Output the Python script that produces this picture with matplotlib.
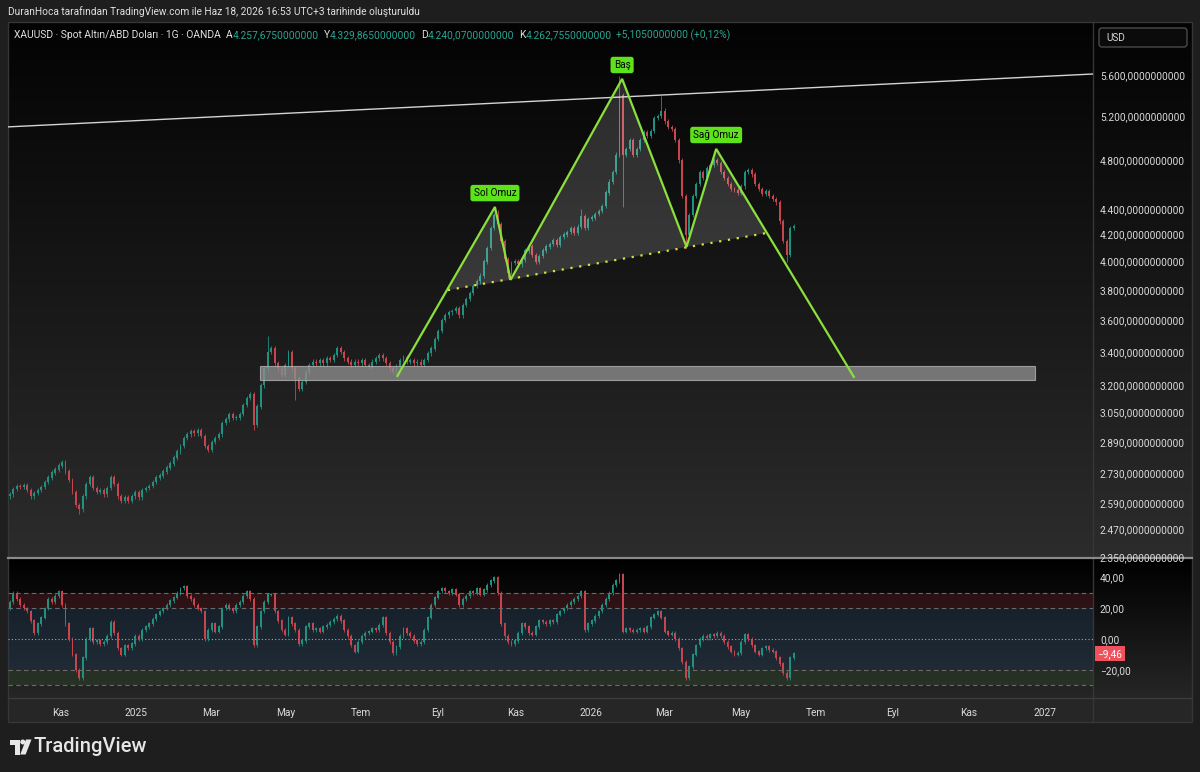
import numpy as np
import pandas as pd
import matplotlib
matplotlib.use("Agg")
import matplotlib.pyplot as plt
from matplotlib.colors import LinearSegmentedColormap
from matplotlib.patches import Rectangle, Circle, Polygon, FancyBboxPatch
from matplotlib.ticker import NullLocator
from matplotlib.transforms import blended_transform_factory

plt.rcParams["font.family"] = ["Roboto", "DejaVu Sans"]

# first bar of the visible range; one candle = 2 trading days
START = "2024-09-20"

# XAUUSD closes (every 2nd trading day)
closes = [
    2630, 2655, 2670, 2665, 2675, 2650, 2620, 2635, 2650, 2665,
    2690, 2710, 2735, 2750, 2770, 2785, 2740, 2700, 2640, 2580,
    2560, 2620, 2680, 2710, 2660, 2640, 2650, 2630, 2660, 2710,
    2680, 2620, 2600, 2615, 2600, 2620, 2640, 2615, 2650, 2660,
    2670, 2690, 2710, 2720, 2740, 2760, 2780, 2810, 2840, 2870,
    2910, 2930, 2945, 2935, 2950, 2920, 2870, 2850, 2890, 2910,
    2930, 2990, 3010, 3040, 3020, 3020, 3040, 3090, 3130, 3150,
    2980, 3080, 3200, 3300, 3400, 3420, 3330, 3300, 3260, 3320,
    3400, 3300, 3240, 3180, 3220, 3280, 3320, 3340, 3330, 3350,
    3330, 3360, 3350, 3380, 3420, 3400, 3360, 3340, 3320, 3340,
    3330, 3350, 3320, 3310, 3340, 3360, 3380, 3360, 3330, 3300,
    3280, 3310, 3350, 3370, 3340, 3350, 3330, 3340, 3320, 3350,
    3390, 3420, 3480, 3530, 3600, 3630, 3650, 3660, 3680, 3630,
    3700, 3740, 3780, 3830, 3860, 3900, 4000, 4100, 4250, 4350,
    4280, 4150, 4020, 3920, 3990, 4000, 3980, 4010, 4080, 4110,
    4050, 4000, 4040, 4080, 4110, 4130, 4160, 4120, 4180, 4200,
    4220, 4250, 4210, 4260, 4340, 4250, 4320, 4330, 4360, 4380,
    4420, 4530, 4620, 4700, 4850, 5400, 4850, 4900, 4980, 4850,
    4900, 4980, 5050, 5020, 5060, 5180, 5200, 5250, 5150, 5100,
    5080, 4980, 4800, 4500, 4200, 4350, 4500, 4600, 4700, 4650,
    4730, 4760, 4800, 4780, 4700, 4650, 4600, 4560, 4550, 4530,
    4580, 4700, 4720, 4680, 4600, 4560, 4520, 4540, 4500, 4480,
    4450, 4300, 4150, 4050, 4250, 4263,
]
first_open = 2620
# long wicks visible on the chart: candle index -> price
wick_highs = {74: 3500, 140: 4390, 164: 4400, 175: 5590, 187: 5390}
wick_lows = {20: 2540, 70: 2955, 82: 3120, 143: 3885, 176: 4410, 194: 4100, 223: 4000}

# oscillator pane values (same candles)
osc = [
    24, 30, 26, 22, 20, 18, 12, 4, 10, 14,
    20, 26, 24, 28, 31, 22, 10, 0, -10, -20,
    -25, -12, 0, 7, -2, -1, -3, -2, 2, 11,
    4, -6, -10, -4, -6, -3, 2, 0, 6, 8,
    10, 13, 16, 18, 20, 22, 25, 27, 30, 33,
    34, 28, 26, 22, 20, 18, 0, 6, 10, 5,
    8, 20, 22, 20, 18, 22, 24, 28, 31, 26,
    -4, 8, 18, 24, 29, 29, 18, 12, 6, 3,
    14, 10, 6, -3, -1, 8, 10, 6, 7, 5,
    8, 9, 11, 13, 15, 12, 6, 2, -4, -8,
    -2, 2, 4, 5, 7, 6, 9, 14, 4, -2,
    -9, -5, 2, 7, 4, 2, -1, -3, -2, 6,
    14, 22, 27, 31, 33, 31, 30, 32, 29, 22,
    26, 28, 31, 30, 33, 29, 32, 35, 38, 40,
    30, 10, 2, -2, -3, -1, 4, 10, 8, 4,
    3, 8, 12, 11, 10, 12, 11, 16, 18, 20,
    22, 24, 26, 28, 31, 6, 10, 12, 15, 18,
    22, 26, 30, 35, 38, 42, 5, 7, 6, 5,
    6, 7, 5, 8, 14, 16, 18, 14, 5, 3,
    4, 0, -6, -15, -25, -18, -10, -4, 0, 2,
    1, 3, 2, 4, 2, -2, -5, -8, -10, -9,
    -2, 3, 0, -4, -8, -10, -6, -5, -7, -8,
    -12, -16, -22, -25, -12, -9.46,
]
osc_first_open = 20

# head & shoulders drawing
hs_dates = ["2025-07-30", "2025-10-16", "2025-10-29", "2026-01-27",
            "2026-03-19", "2026-04-13", "2026-07-31"]
hs_prices = [3255, 4414, 3871, 5560, 4108, 4901, 3250]
neck_dates = ["2025-09-09", "2026-05-22"]
neck_prices = [3800, 4212]
hs_labels = {1: "Sol Omuz", 3: "Baş", 5: "Sağ Omuz"}

# support zone and upper trendline
zone_dates = ["2025-04-10", "2026-12-24"]
zone_prices = [3233, 3315]
trend_dates = ["2024-10-01", "2026-12-01"]
trend_prices = [5105, 5566]

price_ticks = [2350, 2470, 2590, 2730, 2890, 3050, 3200, 3400, 3600,
               3800, 4000, 4200, 4400, 4800, 5200, 5600]
osc_ticks = [40, 20, 0, -20]
month_dates = ["2024-11-01", "2025-01-01", "2025-03-01", "2025-05-01", "2025-07-01",
               "2025-09-01", "2025-11-01", "2026-01-01", "2026-03-01", "2026-05-01",
               "2026-07-01", "2026-09-01", "2026-11-01", "2027-01-01"]
month_labels = ["Kas", "2025", "Mar", "May", "Tem", "Eyl", "Kas", "2026",
                "Mar", "May", "Tem", "Eyl", "Kas", "2027"]

UP, DOWN = "#21907f", "#c8454f"
TXT = "#dadada"
TEAL = "#2aa393"
GREEN = "#8be03c"


def bx(d):
    return np.busday_count(START, np.array(d, dtype="datetime64[D]"))


def tr_fmt(v, dec):
    s = f"{v:,.{dec}f}"
    return s.replace(",", "X").replace(".", ",").replace("X", ".")


W, H = 1200, 772
fig = plt.figure(figsize=(12, 7.72), dpi=100, facecolor="#1e1e1e")

# background panel (pixel coordinates)
bg = fig.add_axes([0, 0, 1, 1], zorder=-5)
bg.axis("off")
grad = np.linspace(0, 1, 256)[:, None]
bg.imshow(grad, cmap=LinearSegmentedColormap.from_list("m", ["#030303", "#2c2c2c"]),
          extent=(8, 1192, 558, 22), aspect="auto")
bg.imshow(grad, cmap=LinearSegmentedColormap.from_list("o", ["#000000", "#262626"]),
          extent=(8, 1192, 698, 559), aspect="auto")
bg.add_patch(Rectangle((8, 698), 1184, 24, fc="#262626", ec="none"))
bg.add_patch(Rectangle((8, 22), 1184, 700, fc="none", ec="#363636", lw=1))
bg.plot([1093, 1093], [22, 722], color="#363636", lw=1)
bg.plot([8, 1192], [698, 698], color="#3c3c3c", lw=1)
bg.plot([8, 1192], [558, 558], color="#8a8a8a", lw=1.6)
bg.add_patch(FancyBboxPatch((1099, 28), 88, 19, boxstyle="round,pad=0,rounding_size=3",
                            fc="#0b0b0b", ec="#4a4a4a", lw=1))
bg.text(1106, 38, "USD", color=TXT, fontsize=7.2, va="center")

# TradingView logo
for p in [Rectangle((10, 739.5), 9.5, 5), Rectangle((14.5, 739.5), 5, 15),
          Circle((22.8, 742), 2.5),
          Polygon([(26, 739.5), (31.5, 739.5), (25.6, 754.5), (20.2, 754.5)])]:
    p.set_facecolor("#e6e6e6")
    p.set_edgecolor("none")
    bg.add_patch(p)
bg.text(33, 747, "TradingView", color="#e6e6e6", fontsize=14.5, va="center", fontweight="medium")
bg.set_xlim(0, W)
bg.set_ylim(H, 0)

# ---- main price pane ----
ax = fig.add_axes([8 / W, (H - 557.5) / H, 1085 / W, (557.5 - 22) / H], zorder=1)
ax.set_facecolor("none")
ax.set_yscale("log")
xlim = (-0.5, 622.3)

n = len(closes)
dates = pd.bdate_range(START, periods=2 * n)[::2]
xc = bx(dates.values.astype("datetime64[D]")) + 0.5
c = np.array(closes, float)
o = np.r_[first_open, c[:-1]]
hi = np.maximum(o, c) * 1.004
lo = np.minimum(o, c) / 1.004
for k, v in wick_highs.items():
    hi[k] = v
for k, v in wick_lows.items():
    lo[k] = v
col = np.where(c >= o, UP, DOWN)
ax.vlines(xc, lo, hi, colors=col, lw=0.6, zorder=2)
ax.bar(xc, np.abs(c - o) + 1, bottom=np.minimum(o, c), width=1.1, color=col, lw=0, zorder=2)

# upper trendline
ax.axline((bx(trend_dates[0]), trend_prices[0]), (bx(trend_dates[1]), trend_prices[1]),
          color="#d4d4d4", lw=1.0, zorder=3)

# support zone
zx0, zx1 = bx(zone_dates[0]), bx(zone_dates[1])
ax.add_patch(Rectangle((zx0, zone_prices[0]), zx1 - zx0, zone_prices[1] - zone_prices[0],
                       fc="#8f8f8f", ec="#b5b5b5", lw=0.8, alpha=0.78, zorder=5))

# head & shoulders
hx = bx(hs_dates)
nx = bx(neck_dates)
tris = [([nx[0], hx[1], hx[2]], [neck_prices[0], hs_prices[1], hs_prices[2]]),
        ([hx[2], hx[3], hx[4]], [hs_prices[2], hs_prices[3], hs_prices[4]]),
        ([hx[4], hx[5], nx[1]], [hs_prices[4], hs_prices[5], neck_prices[1]])]
for txs, tys in tris:
    ax.fill(txs, tys, color="white", alpha=0.15, lw=0, zorder=3)
ax.plot(nx, neck_prices, color="#d9e23a", lw=1.6, ls=(0, (1, 3)), zorder=4)
ax.plot(hx, hs_prices, color=GREEN, lw=1.6, zorder=6, solid_joinstyle="miter")
for i, lab in hs_labels.items():
    ax.annotate(lab, (hx[i], hs_prices[i]), xytext=(0, 10), textcoords="offset points",
                ha="center", va="center", fontsize=7.2, color="black", zorder=7,
                bbox=dict(boxstyle="round,pad=0.32,rounding_size=0.25", fc="#5ee21c", ec="none"))

ax.set_xlim(*xlim)
ax.set_ylim(2347, 6160)
ax.yaxis.tick_right()
ax.set_yticks(price_ticks)
ax.set_yticklabels([tr_fmt(v, 10) for v in price_ticks])
ax.yaxis.set_minor_locator(NullLocator())
ax.tick_params(axis="y", length=0, pad=5, labelsize=7.3, labelcolor=TXT)
ax.set_xticks([])
for s in ax.spines.values():
    s.set_visible(False)

# ---- oscillator pane ----
ax2 = fig.add_axes([8 / W, (H - 698) / H, 1085 / W, (698 - 559) / H], zorder=1)
ax2.set_facecolor("none")
ax2.axhspan(20, 30, color="#4e1a1e", alpha=0.5, lw=0)
ax2.axhspan(-20, 20, color="#223a52", alpha=0.45, lw=0)
ax2.axhspan(-30, -20, color="#34502f", alpha=0.35, lw=0)
for lv in (30, 20, -20, -30):
    ax2.axhline(lv, color="#6f6a6a", lw=0.8, ls=(0, (4, 3)))
ax2.axhline(0, color="#a8a8a8", lw=0.8, ls=(0, (1, 2)))

v = np.array(osc, float)
vo = np.r_[osc_first_open, v[:-1]]
vcol = np.where(v >= vo, UP, DOWN)
ax2.vlines(xc, np.minimum(vo, v) - 1.2, np.maximum(vo, v) + 1.2, colors=vcol, lw=0.6)
ax2.bar(xc, np.abs(v - vo) + 0.3, bottom=np.minimum(vo, v), width=1.1, color=vcol, lw=0)

ax2.set_xlim(*xlim)
ax2.set_ylim(-38.2, 52.1)
ax2.yaxis.tick_right()
ax2.set_yticks(osc_ticks)
ax2.set_yticklabels([tr_fmt(t, 2).replace("-", "\u2212") for t in osc_ticks])
ax2.tick_params(axis="y", length=0, pad=5, labelsize=7.3, labelcolor=TXT)
ax2.set_xticks(bx(month_dates))
ax2.set_xticklabels(month_labels)
ax2.tick_params(axis="x", length=0, pad=7, labelsize=7.3, labelcolor=TXT)
for s in ax2.spines.values():
    s.set_visible(False)
ax2.text(1.004, v[-1], tr_fmt(v[-1], 2).replace("-", "\u2212"), color="white", fontsize=7.3,
         va="center", ha="left", transform=blended_transform_factory(ax2.transAxes, ax2.transData),
         bbox=dict(boxstyle="square,pad=0.25", fc="#f0525d", ec="none"), clip_on=False)

# ---- header texts ----
renderer = fig.canvas.get_renderer()


def text_run(x, y, parts, size):
    for s, colr, gap in parts:
        t = fig.text(x / W, 1 - y / H, s, color=colr, fontsize=size, va="center")
        x += t.get_window_extent(renderer).width + gap


text_run(8, 12, [("DuranHoca tarafından TradingView.com ile Haz 18, 2026 16:53 UTC+3 "
                  "tarihinde oluşturuldu", "#e0e0e0", 0)], 7.3)
text_run(14, 35, [("XAUUSD · Spot Altın/ABD Doları · 1G · OANDA", "#e0e0e0", 5),
                  ("A", "#e0e0e0", 0), ("4.257,6750000000", TEAL, 5),
                  ("Y", "#e0e0e0", 0), ("4.329,8650000000", TEAL, 5),
                  ("D", "#e0e0e0", 0), ("4.240,0700000000", TEAL, 5),
                  ("K", "#e0e0e0", 0), ("4.262,7550000000", TEAL, 5),
                  ("+5,1050000000 (+0,12%)", TEAL, 0)], 7.4)

fig.savefig("out.png", dpi=100, facecolor=fig.get_facecolor())
